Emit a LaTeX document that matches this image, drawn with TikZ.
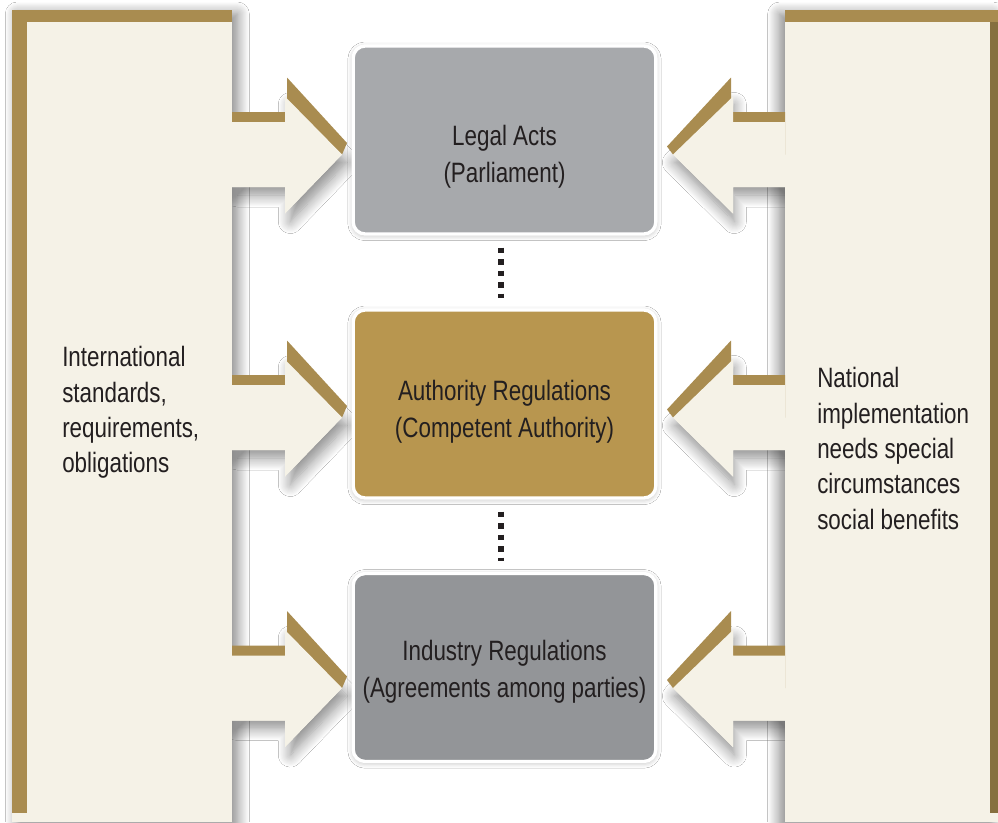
\documentclass[tikz,border=0pt]{standalone}
\usepackage{fontspec}
\setmainfont{Liberation Sans}[FakeStretch=0.8]
\usetikzlibrary{shadows.blur}
\definecolor{cream}{HTML}{F5F2E7}
\definecolor{goldc}{HTML}{A98C50}
\definecolor{golddark}{HTML}{86703F}
\definecolor{boxgrayA}{HTML}{A7A9AC}
\definecolor{boxgold}{HTML}{B8964F}
\definecolor{boxgrayB}{HTML}{939598}
\definecolor{ink}{HTML}{231F20}
\tikzset{
  goldpart/.style={fill=goldc, draw=none},
  creampart/.style={fill=cream, draw=none},
  lshadow/.style={fill=cream, blur shadow={shadow xshift=4pt, shadow yshift=-6pt, shadow blur radius=9pt, shadow blur steps=12, shadow opacity=45}},
  rshadow/.style={fill=cream, blur shadow={shadow xshift=1pt, shadow yshift=-6pt, shadow blur radius=9pt, shadow blur steps=12, shadow opacity=45}},
  lpshadow/.style={fill=cream, blur shadow={shadow xshift=4pt, shadow yshift=-3pt, shadow blur radius=9pt, shadow blur steps=12, shadow opacity=50}},
  rpshadow/.style={fill=cream, blur shadow={shadow xshift=-4pt, shadow yshift=-3pt, shadow blur radius=9pt, shadow blur steps=12, shadow opacity=50}},
  box/.style={rounded corners=9pt, minimum width=227pt, minimum height=141pt, draw=white, line width=2.5pt, inner sep=0pt,
    blur shadow={shadow xshift=0pt, shadow yshift=-1pt, shadow blur radius=4pt, shadow opacity=30}},
  boxtext/.style={anchor=north, align=center, inner sep=0pt, text=ink, font=\fontsize{21}{27.75}\selectfont},
  sidetext/.style={anchor=north west, align=left, inner sep=0pt, text=ink, font=\fontsize{21}{26.6}\selectfont},
  dotline/.style={draw=ink, line width=4.5pt, dash pattern=on 4.1pt off 4.5pt, shorten <=9pt, shorten >=8pt},
}
\newcommand\leftarrshadow[1]{%
  \path[lshadow] (232,{#1-32.5}) -- (285,{#1-32.5}) -- (285,{#1-58}) -- (342,{#1}) -- (285,{#1+59}) -- (285,{#1+32.5}) -- (232,{#1+32.5}) -- cycle;
}
\newcommand\leftarr[1]{%
  \fill[goldpart] (232,{#1-42.5}) -- (287,{#1-42.5}) -- (287,{#1-77}) -- (347,{#1-11.5}) -- (342,{#1}) -- (232,{#1}) -- cycle;
  \fill[creampart] (232,{#1-32.5}) -- (285,{#1-32.5}) -- (285,{#1-58}) -- (342,{#1}) -- (285,{#1+59}) -- (285,{#1+32.5}) -- (232,{#1+32.5}) -- cycle;
}
\newcommand\rightarrshadow[1]{%
  \path[rshadow] (785,{#1-32.5}) -- (733,{#1-32.5}) -- (733,{#1-58}) -- (673,{#1}) -- (733,{#1+59}) -- (733,{#1+32.5}) -- (785,{#1+32.5}) -- cycle;
}
\newcommand\rightarr[1]{%
  \fill[goldpart] (785,{#1-42.5}) -- (731,{#1-42.5}) -- (731,{#1-77}) -- (667,{#1-8}) -- (673,{#1}) -- (785,{#1}) -- cycle;
  \fill[creampart] (785,{#1-32.5}) -- (733,{#1-32.5}) -- (733,{#1-58}) -- (673,{#1}) -- (733,{#1+59}) -- (733,{#1+32.5}) -- (785,{#1+32.5}) -- cycle;
}
\begin{document}
\begin{tikzpicture}[x=0.75pt, y=-0.75pt]
\useasboundingbox (0,0) rectangle (998,822);
\fill[white] (0,0) rectangle (998,822);
% shadows
\path[lpshadow] (12,10) rectangle (232,822);
\path[rpshadow] (785,10) rectangle (998,822);
\leftarrshadow{154.5}
\leftarrshadow{417.5}
\leftarrshadow{688}
\rightarrshadow{154.5}
\rightarrshadow{417.5}
\rightarrshadow{688}
% left panel
\fill[goldpart] (12,10) rectangle (232,813);
\fill[creampart] (27,22) rectangle (232,822);
% right panel
\fill[goldpart] (785,10) rectangle (998,813);
\fill[golddark] (990,22) rectangle (998,813);
\fill[creampart] (785,22) rectangle (990,822);
% arrows
\leftarr{154.5}
\leftarr{417.5}
\leftarr{688}
\rightarr{154.5}
\rightarr{417.5}
\rightarr{688}
% boxes
\node[box, fill=boxgrayA] (b1) at (504.5,140) {};
\node[box, fill=boxgold] (b2) at (504.5,404) {};
\node[box, fill=boxgrayB] (b3) at (504.5,667.5) {};
\draw[dotline] ([xshift=-2.5pt]b1.south) -- ([xshift=-2.5pt]b2.north);
\draw[dotline] ([xshift=-2.5pt]b2.south) -- ([xshift=-2.5pt]b3.north);
% texts
\node[boxtext] (t1) at (504.5,124.5) {Legal Acts\\(Parliament)};
\node[boxtext] (t2) at (504.5,380) {Authority Regulations\\(Competent Authority)};
\node[boxtext] (t3) at (504.5,640) {Industry Regulations\\(Agreements among parties)};
\node[sidetext] (lt) at (62,346) {International\\standards,\\requirements,\\obligations};
\node[sidetext] (rt) at (817,367) {National\\implementation\\needs special\\circumstances\\social benefits};
\end{tikzpicture}
\end{document}
